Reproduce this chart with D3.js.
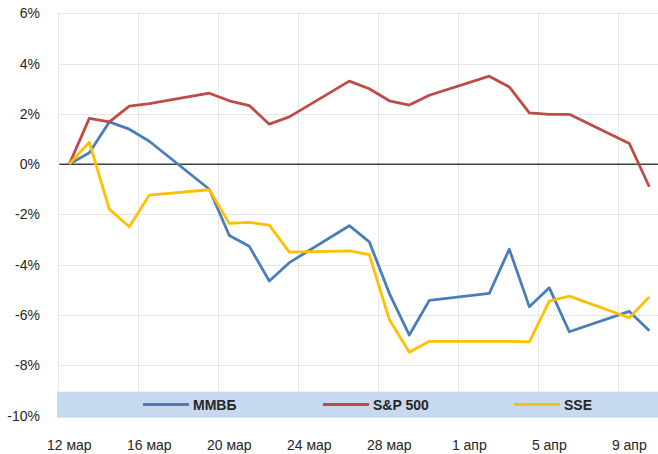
<!DOCTYPE html>
<html>
<head>
<meta charset="utf-8">
<script src="https://cdn.jsdelivr.net/npm/d3@7"></script>
<style>
  body { margin: 0; background: #fff; }
  text { font-family: "Liberation Sans", Arial, sans-serif; fill: #262626; }
</style>
</head>
<body>
<div id="chart"></div>
<script>
// trading days, 2018
var dates = ['2018-03-12', '2018-03-13', '2018-03-14', '2018-03-15', '2018-03-16',
             '2018-03-19', '2018-03-20', '2018-03-21', '2018-03-22', '2018-03-23',
             '2018-03-26', '2018-03-27', '2018-03-28', '2018-03-29', '2018-03-30',
             '2018-04-02', '2018-04-03', '2018-04-04', '2018-04-05', '2018-04-06',
             '2018-04-09', '2018-04-10'];

// cumulative change, %
var mmvb  = [0, 0.45, 1.68, 1.39, 0.91, -1.0, -2.84, -3.27, -4.65, -3.92, -2.45, -3.09,
             -5.14, -6.8, -5.42, -5.14, -3.38, -5.67, -4.92, -6.67, -5.86, -6.63];
var sp500 = [0, 1.82, 1.68, 2.31, 2.41, 2.82, 2.52, 2.33, 1.59, 1.88, 3.3, 3.0,
             2.52, 2.35, 2.74, 3.5, 3.07, 2.04, 1.98, 1.98, 0.82, -0.9];
var sse   = [0, 0.87, -1.79, -2.49, -1.23, -1.02, -2.36, -2.32, -2.43, -3.5, -3.45, -3.6,
             -6.18, -7.48, -7.05, -7.05, -7.05, -7.07, -5.45, -5.25, -6.11, -5.28];

var seriesNames  = ['ММВБ', 'S&P 500', 'SSE'];
var seriesColors = ['#4a7ebb', '#be4b48', '#ffc000'];
var yTicks = [-10, -8, -6, -4, -2, 0, 2, 4, 6];
var monthNames = ['янв', 'фев', 'мар', 'апр', 'май', 'июн', 'июл', 'авг', 'сен', 'окт', 'ноя', 'дек'];

var width = 658;
var height = 454;
var parse = d3.utcParse('%Y-%m-%d');
var dayMs = 864e5;

var svg = d3.select('#chart').append('svg')
    .attr('width', width)
    .attr('height', height);

var x = d3.scaleUtc()
    .domain([parse('2018-03-12'), parse('2018-04-11')])
    .range([59.3, 659.3]);

var y = d3.scaleLinear()
    .domain([-10, 6])
    .range([415.5, 13.3]);

// date category centre
function xc(d) { return x(new Date(d.getTime() + dayMs / 2)); }

var xTicks = d3.utcDay.every(4).range(parse('2018-03-12'), parse('2018-04-11'));
xTicks = d3.utcDay.range(parse('2018-03-12'), parse('2018-04-11'), 4);

// gridlines
svg.append('g').selectAll('line')
    .data(yTicks.filter(function(t) { return t !== 0 && t !== -10; }))
  .enter().append('line')
    .attr('x1', 59.3)
    .attr('x2', width)
    .attr('y1', function(d) { return Math.round(y(d)) + 0.5; })
    .attr('y2', function(d) { return Math.round(y(d)) + 0.5; })
    .attr('stroke', '#d0d0d0')
    .attr('stroke-dasharray', '1,1');

svg.append('g').selectAll('line')
    .data(xTicks)
  .enter().append('line')
    .attr('x1', function(d) { return Math.round(x(d)) - 0.5; })
    .attr('x2', function(d) { return Math.round(x(d)) - 0.5; })
    .attr('y1', y(6))
    .attr('y2', y(-10))
    .attr('stroke', '#d0d0d0')
    .attr('stroke-dasharray', '1,1');

// zero line
svg.append('line')
    .attr('x1', 59.3)
    .attr('x2', width)
    .attr('y1', y(0))
    .attr('y2', y(0))
    .attr('stroke', '#404040')
    .attr('stroke-width', 1.5);

// y labels
svg.append('g').selectAll('text')
    .data(yTicks)
  .enter().append('text')
    .attr('x', 40)
    .attr('y', function(d) { return y(d) + 5; })
    .attr('text-anchor', 'end')
    .style('font-size', '14px')
    .text(function(d) { return d + '%'; });

// x labels
svg.append('g').selectAll('text')
    .data(xTicks)
  .enter().append('text')
    .attr('x', function(d) { return xc(d); })
    .attr('y', 450)
    .attr('text-anchor', 'middle')
    .style('font-size', '14px')
    .text(function(d) { return d.getUTCDate() + ' ' + monthNames[d.getUTCMonth()]; });

// lines
var parsed = dates.map(parse);
var line = d3.line()
    .x(function(d, i) { return xc(parsed[i]); })
    .y(function(d) { return y(d); });

[mmvb, sp500, sse].forEach(function(values, k) {
    svg.append('path')
        .datum(values)
        .attr('d', line)
        .attr('fill', 'none')
        .attr('stroke', seriesColors[k])
        .attr('stroke-width', 2.8)
        .attr('stroke-linejoin', 'round');
});

// legend
svg.append('rect')
    .attr('x', 57)
    .attr('y', 391.7)
    .attr('width', width - 57)
    .attr('height', 26)
    .attr('fill', '#c6d9f1');

var legendX = [143, 323, 514];
var legend = svg.selectAll('.legend')
    .data(seriesNames)
  .enter().append('g')
    .attr('class', 'legend')
    .attr('transform', function(d, i) { return 'translate(' + legendX[i] + ',404.5)'; });

legend.append('line')
    .attr('x1', 0)
    .attr('x2', 46)
    .attr('stroke', function(d, i) { return seriesColors[i]; })
    .attr('stroke-width', 2.8);

legend.append('text')
    .attr('x', 50)
    .attr('y', 5)
    .style('font-size', '14px')
    .style('font-weight', 'bold')
    .text(function(d) { return d; });
</script>
</body>
</html>
